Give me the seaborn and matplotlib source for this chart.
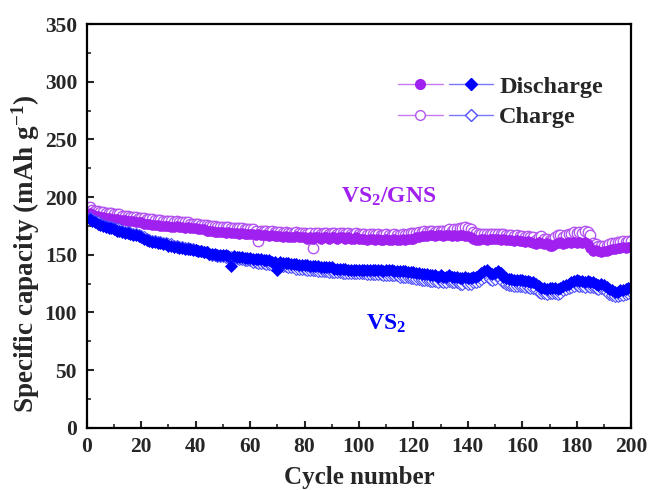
import numpy as np
import pandas as pd
import seaborn as sns
import matplotlib
matplotlib.use("Agg")
import matplotlib.pyplot as plt
from matplotlib.lines import Line2D
from matplotlib.legend_handler import HandlerTuple
from matplotlib.ticker import MultipleLocator

# Cycling data: specific capacity (mAh g^-1) for cycles 1..200
gns_discharge = [
    186, 185, 184, 184, 183, 183, 182, 182, 181, 181,
    181, 180, 180, 180, 179, 179, 179, 178, 178, 178,
    177, 177, 177, 176, 176, 176, 175, 175, 175, 175,
    174, 174, 175, 174, 174, 173, 174, 173, 173, 173,
    172, 172, 172, 171, 171, 171, 170, 170, 170, 170,
    169, 170, 169, 169, 169, 168, 169, 168, 168, 168,
    168, 167, 168, 167, 167, 167, 166, 167, 166, 166,
    166, 165, 166, 165, 165, 165, 166, 165, 165, 165,
    164, 165, 164, 165, 165, 164, 165, 165, 164, 165,
    165, 164, 165, 165, 164, 165, 164, 164, 165, 164,
    164, 164, 163, 164, 164, 163, 164, 163, 163, 164,
    163, 163, 164, 163, 163, 164, 163, 164, 164, 164,
    165, 165, 166, 166, 166, 167, 167, 166, 167, 167,
    166, 167, 167, 166, 167, 166, 167, 167, 166, 166,
    165, 164, 163, 163, 164, 164, 163, 164, 164, 164,
    164, 163, 164, 163, 163, 163, 162, 163, 162, 162,
    161, 162, 161, 160, 159, 161, 160, 159, 160, 158,
    158, 159, 160, 161, 159, 160, 161, 160, 161, 160,
    161, 160, 161, 159, 156, 153, 154, 153, 152, 153,
    153, 154, 155, 155, 156, 156, 157, 156, 157, 157,
]
gns_charge = [
    191, 189, 188, 188, 187, 187, 186, 186, 186, 185,
    185, 185, 184, 184, 184, 183, 183, 183, 182, 182,
    182, 181, 181, 181, 180, 180, 180, 179, 179, 179,
    179, 178, 179, 178, 178, 178, 178, 177, 177, 177,
    177, 176, 176, 176, 175, 175, 175, 174, 174, 174,
    174, 174, 173, 173, 173, 173, 173, 172, 172, 172,
    172, 171, 162, 171, 171, 171, 170, 171, 170, 170,
    170, 169, 170, 169, 169, 169, 170, 169, 169, 169,
    168, 169, 156, 169, 169, 168, 169, 169, 168, 169,
    169, 168, 169, 169, 168, 169, 168, 168, 169, 168,
    168, 168, 167, 168, 168, 167, 168, 167, 167, 168,
    167, 167, 168, 167, 167, 168, 167, 168, 169, 169,
    169, 170, 170, 171, 170, 171, 171, 170, 171, 171,
    171, 171, 172, 171, 172, 172, 173, 173, 174, 173,
    172, 170, 169, 168, 168, 168, 168, 168, 168, 168,
    168, 168, 168, 167, 167, 167, 166, 167, 166, 166,
    165, 166, 165, 165, 163, 165, 166, 164, 164, 163,
    163, 165, 167, 167, 165, 167, 168, 168, 170, 169,
    170, 169, 171, 170, 167, 160, 159, 158, 158, 158,
    158, 159, 160, 160, 161, 161, 162, 161, 162, 162,
]
vs2_discharge = [
    181, 179, 178, 177, 176, 175, 174, 173, 173, 172,
    171, 171, 170, 169, 169, 168, 167, 167, 166, 165,
    164, 163, 162, 161, 161, 160, 160, 159, 159, 158,
    158, 157, 157, 156, 156, 155, 155, 155, 154, 154,
    153, 153, 152, 152, 151, 151, 151, 150, 150, 150,
    150, 149, 140, 149, 148, 148, 148, 147, 147, 147,
    146, 146, 146, 146, 145, 145, 145, 144, 144, 137,
    144, 143, 143, 143, 142, 142, 142, 141, 141, 141,
    141, 140, 140, 140, 140, 139, 139, 139, 139, 139,
    138, 138, 138, 138, 138, 137, 137, 137, 137, 137,
    137, 137, 137, 137, 137, 137, 137, 137, 136, 137,
    137, 137, 136, 136, 136, 136, 136, 135, 135, 135,
    134, 134, 133, 133, 133, 132, 132, 132, 131, 132,
    131, 131, 132, 131, 131, 131, 130, 130, 131, 130,
    130, 131, 131, 132, 134, 136, 137, 134, 133, 134,
    136, 134, 131, 130, 129, 129, 128, 128, 128, 128,
    127, 127, 126, 126, 125, 123, 121, 121, 120, 121,
    121, 121, 120, 121, 123, 124, 125, 126, 127, 128,
    127, 127, 126, 127, 126, 126, 125, 124, 125, 124,
    122, 120, 119, 118, 118, 119, 119, 120, 121, 122,
]
vs2_charge = [
    182, 180, 179, 178, 177, 176, 175, 174, 174, 173,
    172, 172, 171, 170, 170, 169, 168, 168, 167, 166,
    165, 164, 163, 162, 162, 161, 161, 160, 160, 159,
    159, 158, 158, 157, 157, 156, 156, 155, 155, 154,
    153, 153, 152, 152, 151, 150, 150, 149, 149, 149,
    148, 148, 148, 147, 147, 146, 146, 145, 145, 145,
    144, 144, 143, 143, 143, 142, 142, 141, 141, 141,
    140, 140, 140, 139, 139, 139, 138, 138, 138, 138,
    137, 137, 137, 137, 136, 136, 136, 136, 135, 135,
    135, 135, 135, 134, 134, 134, 134, 134, 134, 134,
    134, 134, 133, 133, 133, 133, 133, 133, 132, 132,
    132, 132, 132, 132, 131, 131, 131, 131, 130, 130,
    129, 129, 128, 128, 128, 127, 127, 127, 126, 127,
    126, 126, 127, 126, 126, 126, 125, 125, 126, 125,
    125, 126, 126, 127, 129, 131, 132, 129, 128, 129,
    131, 129, 126, 125, 124, 124, 123, 123, 123, 123,
    122, 122, 121, 121, 120, 118, 117, 117, 116, 117,
    117, 117, 116, 117, 119, 120, 121, 122, 123, 124,
    123, 123, 122, 123, 122, 122, 121, 120, 121, 120,
    118, 116, 115, 114, 114, 115, 115, 116, 117, 118,
]
cycles = list(range(1, len(gns_discharge) + 1))

x_ticks = [0, 20, 40, 60, 80, 100, 120, 140, 160, 180, 200]
y_ticks = [0, 50, 100, 150, 200, 250, 300, 350]

PURPLE = "#A020F0"
PURPLE_LIGHT = "#C878F4"
BLUE = "#0000FF"
BLUE_LIGHT = "#7878FF"

sns.set_style("ticks")
plt.rcParams["font.family"] = ["Liberation Serif", "DejaVu Serif"]
plt.rcParams["font.weight"] = "bold"
plt.rcParams["mathtext.fontset"] = "custom"
plt.rcParams["mathtext.rm"] = "Liberation Serif:bold"
plt.rcParams["mathtext.bf"] = "Liberation Serif:bold"
plt.rcParams["mathtext.it"] = "Liberation Serif:bold"

df = pd.DataFrame({
    "cycle": cycles,
    "gns_dis": gns_discharge,
    "gns_chg": gns_charge,
    "vs2_dis": vs2_discharge,
    "vs2_chg": vs2_charge,
})

fig = plt.figure(figsize=(6.48, 4.90), dpi=100)
ax = fig.add_axes([0.134, 0.127, 0.840, 0.824])

common = dict(ax=ax, x="cycle", linewidth=0.9, legend=False, sort=False)

# VS2/GNS: charge (open) under discharge (filled)
sns.lineplot(data=df, y="gns_chg", color=PURPLE_LIGHT, marker="o", markersize=7.5,
             markerfacecolor="white", markeredgecolor="#B455F2", markeredgewidth=1.0, **common)
sns.lineplot(data=df, y="gns_dis", color=PURPLE_LIGHT, marker="o", markersize=7,
             markerfacecolor=PURPLE, markeredgecolor=PURPLE, markeredgewidth=0.5, **common)
# VS2: charge (open) under discharge (filled)
sns.lineplot(data=df, y="vs2_chg", color=BLUE_LIGHT, marker="D", markersize=6,
             markerfacecolor="white", markeredgecolor="#5050FF", markeredgewidth=0.8, **common)
sns.lineplot(data=df, y="vs2_dis", color=BLUE_LIGHT, marker="D", markersize=6,
             markerfacecolor=BLUE, markeredgecolor=BLUE, markeredgewidth=0.5, **common)

ax.set_xlim(0, 200)
ax.set_ylim(0, 350)
ax.set_xticks(x_ticks)
ax.set_yticks(y_ticks)
ax.xaxis.set_minor_locator(MultipleLocator(10))
ax.yaxis.set_minor_locator(MultipleLocator(25))
ax.tick_params(which="major", direction="in", length=5, width=1.5, labelsize=15.5, pad=7)
ax.tick_params(which="minor", direction="in", length=3, width=1.2)
ax.tick_params(top=False, right=False, which="both")
for lbl in ax.get_xticklabels() + ax.get_yticklabels():
    lbl.set_fontweight("bold")
for sp in ax.spines.values():
    sp.set_visible(True)
    sp.set_linewidth(1.6)
    sp.set_color("black")

ax.set_xlabel("Cycle number", fontsize=18, fontweight="bold", labelpad=6)
ax.set_ylabel(r"Specific capacity (mAh g$^{\mathbf{-1}}$)", fontsize=19.5,
              fontweight="bold")
ax.yaxis.set_label_coords(-0.082, 0.43)

ax.text(111, 200, r"$\mathbf{VS_2/GNS}$", color=PURPLE, fontsize=17,
        ha="center", va="center")
ax.text(110, 90, r"$\mathbf{VS_2}$", color=BLUE, fontsize=17,
        ha="center", va="center")

dis_handle = (
    Line2D([], [], color=PURPLE_LIGHT, lw=1, marker="o", ms=7,
           mfc=PURPLE, mec=PURPLE),
    Line2D([], [], color=BLUE_LIGHT, lw=1, marker="D", ms=6,
           mfc=BLUE, mec=BLUE),
)
chg_handle = (
    Line2D([], [], color=PURPLE_LIGHT, lw=1, marker="o", ms=7,
           mfc="white", mec="#B455F2"),
    Line2D([], [], color=BLUE_LIGHT, lw=1, marker="D", ms=6,
           mfc="white", mec="#5050FF"),
)
ax.legend([dis_handle, chg_handle], ["Discharge", "Charge"],
          handler_map={tuple: HandlerTuple(ndivide=None, pad=0.25)},
          handlelength=3.9, handletextpad=0.25, labelspacing=0.35,
          frameon=False, loc="upper left", bbox_to_anchor=(0.572, 0.872),
          borderpad=0, borderaxespad=0,
          prop={"family": "Liberation Serif", "weight": "bold", "size": 17.5})

fig.savefig("out.png", dpi=100)
